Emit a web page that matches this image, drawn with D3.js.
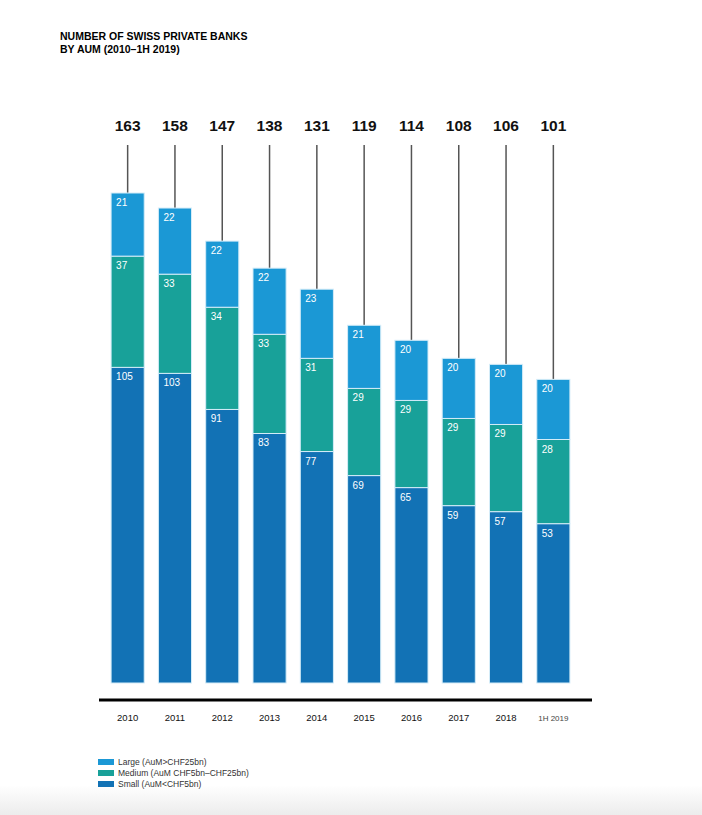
<!DOCTYPE html>
<html>
<head>
<meta charset="utf-8">
<script src="https://cdn.jsdelivr.net/npm/d3@7"></script>
<style>
	html, body { margin: 0; padding: 0; background: #fff; }
	svg { display: block; font-family: "Liberation Sans", Arial, sans-serif; }
</style>
</head>
<body>
<div id="chart"></div>
<script>
var years = ['2010', '2011', '2012', '2013', '2014', '2015', '2016', '2017', '2018', '1H 2019'];
var large = [21, 22, 22, 22, 23, 21, 20, 20, 20, 20];
var medium = [37, 33, 34, 33, 31, 29, 29, 29, 29, 28];
var small = [105, 103, 91, 83, 77, 69, 65, 59, 57, 53];
var totals = [163, 158, 147, 138, 131, 119, 114, 108, 106, 101];
var seriesNames = ['Small (AuM<CHF5bn)', 'Medium (AuM CHF5bn\u2013CHF25bn)', 'Large (AuM>CHF25bn)'];
var seriesKeys = ['small', 'medium', 'large'];
var colors = ['#1272b5', '#18a199', '#1b98d5'];

var width = 702, height = 815;

var svg = d3.select('#chart')
	.append('svg')
	.attr('width', width)
	.attr('height', height);

// faint grey fade at the bottom of the page
var grad = svg.append('defs').append('linearGradient')
	.attr('id', 'page-fade')
	.attr('x1', 0).attr('y1', 0)
	.attr('x2', 0).attr('y2', 1);
grad.append('stop').attr('offset', '0%').attr('stop-color', '#ffffff');
grad.append('stop').attr('offset', '100%').attr('stop-color', '#ececec');
svg.append('rect')
	.attr('x', 0).attr('y', 785)
	.attr('width', width).attr('height', 30)
	.attr('fill', 'url(#page-fade)');

// title
svg.append('text')
	.attr('x', 60).attr('y', 40)
	.attr('font-size', 10.5).attr('font-weight', 'bold')
	.text('NUMBER OF SWISS PRIVATE BANKS');
svg.append('text')
	.attr('x', 60).attr('y', 53)
	.attr('font-size', 10.5).attr('font-weight', 'bold')
	.text('BY AUM (2010\u20131H 2019)');

var rows = years.map(function(y, i) {
	return { year: y, small: small[i], medium: medium[i], large: large[i], total: totals[i] };
});

var x = d3.scaleBand()
	.domain(years)
	.range([104, 577])
	.paddingInner(0.3)
	.paddingOuter(0.15);

var y = d3.scaleLinear()
	.domain([0, 163])
	.range([683, 193]);

var stack = d3.stack().keys(seriesKeys)(rows);

// leader lines from total labels to bar tops
svg.append('g')
	.selectAll('line')
	.data(rows)
	.enter()
	.append('line')
	.attr('x1', function(d) { return x(d.year) + x.bandwidth() / 2; })
	.attr('x2', function(d) { return x(d.year) + x.bandwidth() / 2; })
	.attr('y1', 145)
	.attr('y2', function(d) { return y(d.total); })
	.attr('stroke', '#555')
	.attr('stroke-width', 1.5);

// total labels
svg.append('g')
	.selectAll('text')
	.data(rows)
	.enter()
	.append('text')
	.attr('x', function(d) { return x(d.year) + x.bandwidth() / 2; })
	.attr('y', 131)
	.attr('text-anchor', 'middle')
	.attr('font-size', 15.5)
	.attr('font-weight', 'bold')
	.attr('fill', '#111')
	.text(function(d) { return d.total; });

var layers = svg.append('g')
	.selectAll('g')
	.data(stack)
	.enter()
	.append('g')
	.attr('fill', function(d, i) { return colors[i]; });

layers.selectAll('rect')
	.data(function(d) { return d; })
	.enter()
	.append('rect')
	.attr('x', function(d) { return x(d.data.year); })
	.attr('y', function(d) { return y(d[1]); })
	.attr('width', x.bandwidth())
	.attr('height', function(d) { return y(d[0]) - y(d[1]); })
	.attr('stroke', '#d4ecf8')
	.attr('stroke-width', 1);

layers.selectAll('text')
	.data(function(d) { return d; })
	.enter()
	.append('text')
	.attr('x', function(d) { return x(d.data.year) + 5; })
	.attr('y', function(d) { return y(d[1]) + 13; })
	.attr('font-size', 10)
	.attr('fill', '#fff')
	.text(function(d) { return d[1] - d[0]; });

// baseline
svg.append('line')
	.attr('x1', 99).attr('x2', 592)
	.attr('y1', 700).attr('y2', 700)
	.attr('stroke', '#000')
	.attr('stroke-width', 3);

// year labels
svg.append('g')
	.selectAll('text')
	.data(years)
	.enter()
	.append('text')
	.attr('x', function(d) { return x(d) + x.bandwidth() / 2; })
	.attr('y', 721)
	.attr('text-anchor', 'middle')
	.attr('font-size', function(d) { return d.length > 4 ? 8 : 9.5; })
	.attr('fill', function(d) { return d.length > 4 ? '#444' : '#111'; })
	.text(function(d) { return d; });

// legend (Large first, as in the reference)
var legendOrder = [2, 1, 0];
var legend = svg.append('g')
	.selectAll('g')
	.data(legendOrder)
	.enter()
	.append('g')
	.attr('transform', function(d, i) { return 'translate(98,' + (759 + i * 11) + ')'; });

legend.append('rect')
	.attr('width', 16).attr('height', 6)
	.attr('fill', function(d) { return colors[d]; });

legend.append('text')
	.attr('x', 20).attr('y', 6)
	.attr('font-size', 8.5)
	.attr('fill', '#333')
	.text(function(d) { return seriesNames[d]; });
</script>
</body>
</html>
